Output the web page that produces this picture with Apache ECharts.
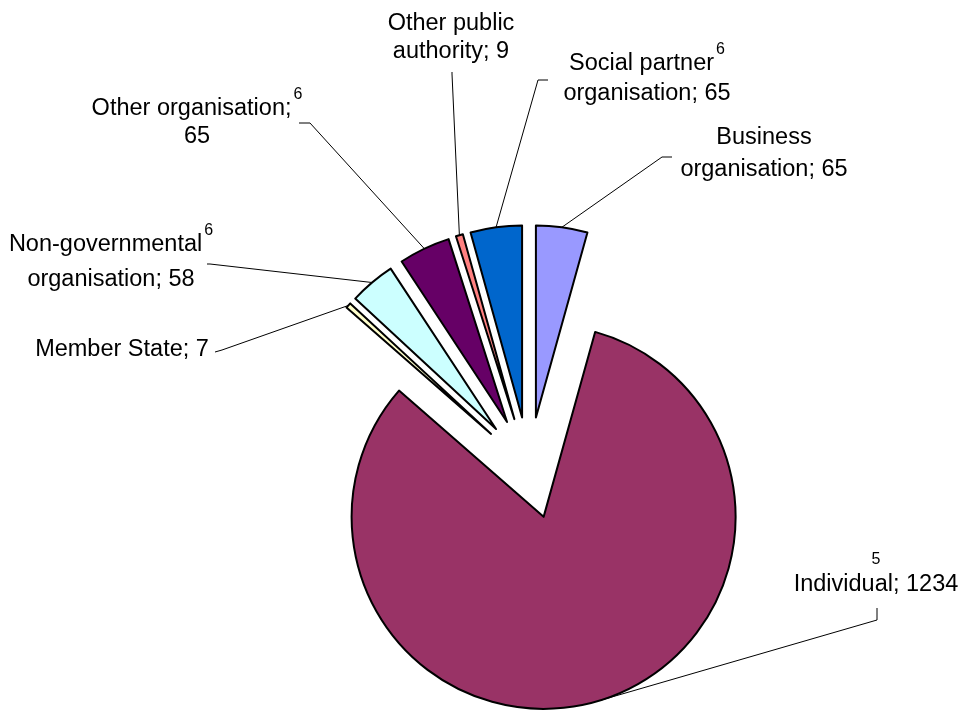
<!DOCTYPE html>
<html><head><meta charset="utf-8">
<script src="https://cdn.jsdelivr.net/npm/echarts@6/dist/echarts.min.js"></script>
<style>html,body{margin:0;padding:0;background:#fff}#c{width:961px;height:711px}</style>
</head><body><div id="c"></div>
<script>
// ---- data ----
const categories = ['Business organisation', 'Individual', 'Member State', 'Non-governmental organisation', 'Other organisation', 'Other public authority', 'Social partner organisation'];
const values = [65, 1234, 7, 58, 65, 9, 65];
const footnotes = ['', '5', '', '6', '6', '', '6'];
const breakAfter = [1, 0, null, 1, 2, 2, 2]; // word index after which label wraps

// ---- styles / layout (not data) ----
const colors = ['#9999FF', '#993366', '#FFFFCC', '#CCFFFF', '#660066', '#FF8080', '#0066CC'];
const PIE_CENTER = [529, 468];
const PIE_RADIUS = 192;
const EXPLODE = 51;
const LABEL_LAYOUT = [
  {x: 764, y: 122, lh: 32, bend: [662, 157], end: [672, 157]},
  {x: 876, y: 549, lh: 28, bend: [877, 620], end: [877, 608]},
  {x: 122, y: 336, lh: 28, bend: [222, 350], end: [215, 352]},
  {x: 111, y: 223, lh: 35, bend: [210, 264], end: [207, 264]},
  {x: 197, y: 87,  lh: 28, bend: [310, 123], end: [299, 123]},
  {x: 451, y: 10,  lh: 28, bend: [452, 74],  end: [452, 72]},
  {x: 647, y: 42,  lh: 30, bend: [538, 80],  end: [548, 80]}
];
const FONT = '"Liberation Sans", Arial, sans-serif';
const FS = 23.5;
const SUP = 16;
const SUP_RAISE = 14;

function labelText(i) {
  const words = (categories[i] + '; ' + values[i]).split(' ');
  const sup = footnotes[i];
  const b = breakAfter[i];
  if (b === null) return '{a|' + words.join(' ') + '}';
  const l1 = words.slice(0, b).join(' ');
  const l2 = words.slice(b).join(' ');
  let first;
  if (!l1) first = '{u|' + sup + '}';
  else if (sup) first = '{b|' + l1 + '}{s|' + sup + '}';
  else first = '{a|' + l1 + '}';
  return first + '\n{a|' + l2 + '}';
}

function richFor(i) {
  const lh = LABEL_LAYOUT[i].lh;
  const L1 = SUP / 2 + SUP_RAISE + lh / 2;
  return {
    a: {fontSize: FS, lineHeight: lh, fontFamily: FONT, color: '#000'},
    b: {fontSize: FS, lineHeight: L1, fontFamily: FONT, color: '#000', verticalAlign: 'bottom',
        padding: [0, 0, Math.max(0, lh / 2 - FS / 2), 0]},
    s: {fontSize: SUP, lineHeight: SUP, fontFamily: FONT, color: '#000', verticalAlign: 'top', padding: [0, 0, 0, 2]},
    u: {fontSize: SUP, lineHeight: 22, fontFamily: FONT, color: '#000'}
  };
}

// exploded pie: one series per slice, each shifted along its own bisector
const total = values.reduce((s, v) => s + v, 0);
let acc = 0;
const series = categories.map((name, k) => {
  const mid = (acc + values[k] / 2) / total * 2 * Math.PI;
  acc += values[k];
  const cx = PIE_CENTER[0] + EXPLODE * Math.sin(mid);
  const cy = PIE_CENTER[1] - EXPLODE * Math.cos(mid);
  return {
    type: 'pie',
    name: name,
    center: [cx, cy],
    radius: PIE_RADIUS,
    startAngle: 90,
    clockwise: true,
    avoidLabelOverlap: false,
    silent: true,
    emphasis: {disabled: true},
    label: {show: true, position: 'outside', fontFamily: FONT, fontSize: FS, color: '#000'},
    labelLine: {show: true, lineStyle: {color: '#000', width: 1}},
    labelLayout: function (p) {
      if (p.dataIndex !== k) return {};
      const L = LABEL_LAYOUT[k];
      const start = p.labelLinePoints ? p.labelLinePoints[0] : L.bend;
      return {
        x: L.x, y: L.y, align: 'center', verticalAlign: 'top',
        labelLinePoints: [start, L.bend, L.end]
      };
    },
    data: categories.map((n, i) => i === k ? {
      name: n, value: values[i],
      itemStyle: {color: colors[i], borderColor: '#000', borderWidth: 2},
      label: {show: true, formatter: labelText(i), rich: richFor(i)},
      labelLine: {show: true}
    } : {
      name: n, value: values[i],
      itemStyle: {color: 'rgba(0,0,0,0)', borderWidth: 0},
      label: {show: false},
      labelLine: {show: false}
    })
  };
});

const chart = echarts.init(document.getElementById('c'), null, {renderer: 'canvas'});
chart.setOption({
  animation: false,
  backgroundColor: '#fff',
  series: series
});
</script>
</body></html>
